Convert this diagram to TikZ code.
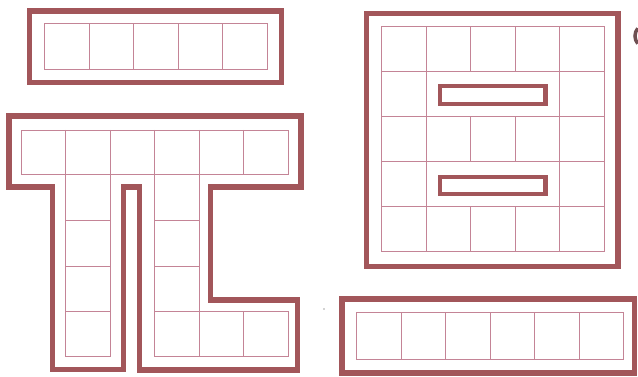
\documentclass[tikz,border=0pt]{standalone}
\definecolor{frame}{RGB}{162,86,90}
\definecolor{gridc}{RGB}{196,132,150}
\definecolor{markc}{RGB}{110,80,82}
\begin{document}
\begin{tikzpicture}[x=1pt,y=-1pt,
  thickframe/.style={draw=frame,line width=5.2pt,line join=miter},
  thinframe/.style={draw=gridc,line width=0.6pt},
  bar/.style={draw=frame,line width=4.8pt}]
\useasboundingbox (0,0) rectangle (638,377);
\fill[white] (0,0) rectangle (638,377);

% ---- top rectangle (5 cells)
\draw[thickframe] (29.8,11) rectangle (281.7,82.5);
\draw[thinframe] (44.3,23.3) rectangle (266.8,69);
\foreach \i in {1,...,4} \draw[thinframe] (44.3+44.5*\i,23.3) -- (44.3+44.5*\i,69);

% ---- T / L shaped figure
\draw[thickframe] (9,116) -- (301,116) -- (301,187) -- (210.5,187) -- (210.5,300)
  -- (297.5,300) -- (297.5,370) -- (139.5,370) -- (139.5,187) -- (123.5,187)
  -- (123.5,369.5) -- (52.5,369.5) -- (52.5,187) -- (9,187) -- cycle;
% top row 6 cells
\draw[thinframe] (21,130) rectangle (288,174.5);
\foreach \i in {1,...,5} \draw[thinframe] (21+44.5*\i,130) -- (21+44.5*\i,174.5);
% left column
\draw[thinframe] (65.5,174.5) rectangle (110,356);
\foreach \y in {220,266,311} \draw[thinframe] (65.5,\y) -- (110,\y);
% right column + foot
\draw[thinframe] (154.5,174.5) -- (154.5,356) -- (288,356) -- (288,311) -- (199,311) -- (199,174.5);
\foreach \y in {220,266,311} \draw[thinframe] (154.5,\y) -- (199,\y);
\draw[thinframe] (199,311) -- (199,356);
\draw[thinframe] (243.5,311) -- (243.5,356);

% ---- square figure
\draw[thickframe] (366.3,13.3) rectangle (618,266.7);
\draw[thinframe] (381.7,26.7) rectangle (604.2,251.7);
\foreach \y in {71.7,116.7,161.7,206.7} \draw[thinframe] (381.7,\y) -- (604.2,\y);
\foreach \i in {1,4} \draw[thinframe] (381.7+44.5*\i,26.7) -- (381.7+44.5*\i,251.7);
\foreach \i in {2,3} {
  \draw[thinframe] (381.7+44.5*\i,26.7) -- (381.7+44.5*\i,71.7);
  \draw[thinframe] (381.7+44.5*\i,116.7) -- (381.7+44.5*\i,161.7);
  \draw[thinframe] (381.7+44.5*\i,206.7) -- (381.7+44.5*\i,251.7);
}
\draw[bar] (440,86) rectangle (545.7,104);
\draw[bar] (440,177) rectangle (545.7,194);

% ---- bottom right rectangle (6 cells)
\draw[thickframe] (342,299) rectangle (634.5,373);
\draw[thinframe] (356.7,312.3) rectangle (623.3,359);
\foreach \i in {1,...,5} \draw[thinframe] (356.7+44.43*\i,312.3) -- (356.7+44.43*\i,359);

% ---- stray marks
\fill[gray!70] (324,309) circle (0.9);
\draw[markc,line width=3.5pt] (647,36) ++(140:12) arc (140:220:12);
\end{tikzpicture}
\end{document}
